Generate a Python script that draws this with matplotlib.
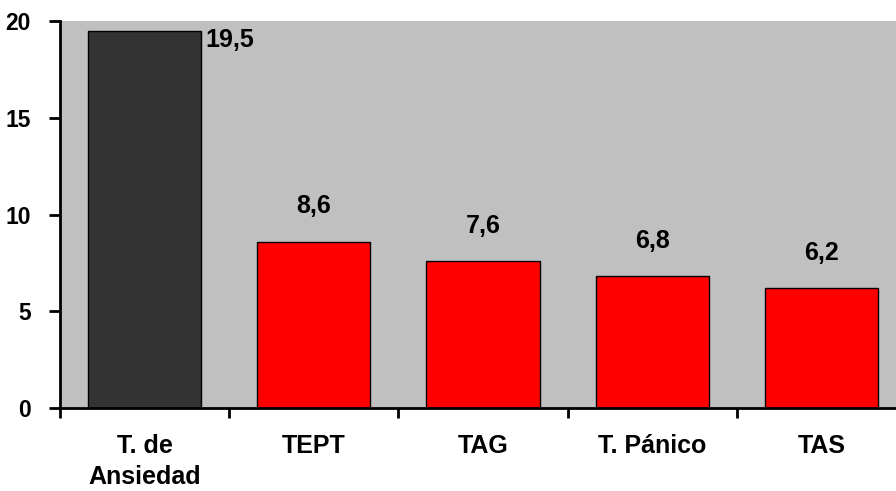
import matplotlib
matplotlib.use("Agg")
import matplotlib.pyplot as plt

categories = ["T. de\nAnsiedad", "TEPT", "TAG", "T. Pánico", "TAS"]
values = [19.5, 8.6, 7.6, 6.8, 6.2]
labels = ["19,5", "8,6", "7,6", "6,8", "6,2"]
colors = ["#333333", "#FF0000", "#FF0000", "#FF0000", "#FF0000"]
yticks = [0, 5, 10, 15, 20]

plt.rcParams['font.family'] = ['Liberation Sans', 'DejaVu Sans']

fig = plt.figure(figsize=(8.96, 4.91), dpi=100)
ax = fig.add_axes([60/896, 1-408/491, 846/896, 387/491])
ax.set_facecolor("#C0C0C0")

x = list(range(len(categories)))
ax.bar(x, values, width=0.67, color=colors, edgecolor="black", linewidth=1, zorder=2)

ax.set_xlim(-0.5, len(categories) - 0.5)
ax.set_ylim(0, 20)
ax.set_yticks(yticks)
ax.set_yticklabels([str(t) for t in yticks], fontsize=16.5, fontweight='bold')

ax.set_xticks([i - 0.5 for i in range(len(categories) + 1)])
ax.set_xticklabels([])
ax.set_xticks(x, minor=True)
ax.set_xticklabels(categories, minor=True, fontsize=18, fontweight='bold', linespacing=1.35)
ax.tick_params(axis='x', which='minor', length=0, pad=19)
ax.tick_params(axis='x', which='major', direction='out', length=7, width=2)
ax.tick_params(axis='y', direction='out', length=8, width=2, pad=13)

for s in ['top', 'right']:
    ax.spines[s].set_visible(False)
for s in ['left', 'bottom']:
    ax.spines[s].set_linewidth(2)

for i, (v, lab) in enumerate(zip(values, labels)):
    if i == 0:
        ax.text(i + 0.36, v + 0.15, lab, ha='left', va='top', fontsize=18, fontweight='bold')
    else:
        ax.text(i, v + 1.2, lab, ha='center', va='bottom', fontsize=18, fontweight='bold')

fig.savefig("out.png", dpi=100)
